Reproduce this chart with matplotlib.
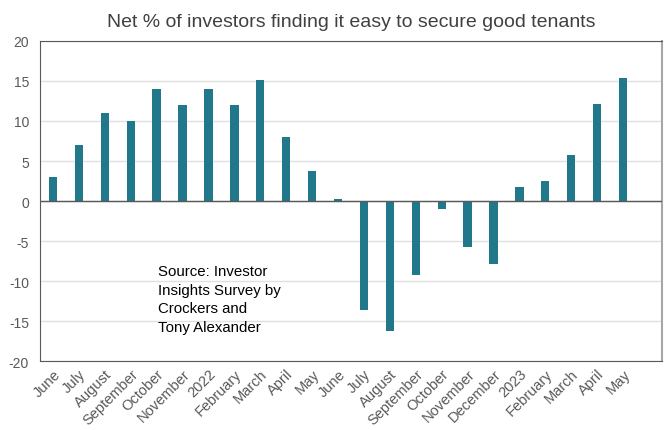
import matplotlib.pyplot as plt

plt.rcParams["font.family"] = ["Liberation Sans", "DejaVu Sans"]
plt.rcParams["axes.unicode_minus"] = False

# Monthly survey, June 2021 to May 2023 (last slot left empty)
months = ["June", "July", "August", "September", "October", "November",
          "2022", "February", "March", "April", "May", "June", "July",
          "August", "September", "October", "November", "December",
          "2023", "February", "March", "April", "May", ""]
net_pct = [3.0, 7.0, 11.0, 10.0, 14.0, 12.0, 14.0, 12.0, 15.1, 8.0, 3.7,
           0.3, -13.6, -16.3, -9.3, -1.0, -5.7, -7.9, 1.8, 2.5, 5.7,
           12.1, 15.4, None]

x = list(range(len(months)))
vals = [v if v is not None else 0 for v in net_pct]

fig = plt.figure(figsize=(6.68, 4.31), dpi=100)
ax = fig.add_axes([0.0599, 0.160, 0.931, 0.7426])

ax.bar(x, vals, width=0.32, color="#20788a", zorder=3)
ax.axhline(0, color="#595959", lw=1, zorder=4)

ax.set_xlim(-0.5, len(months) - 0.5)
ax.set_ylim(-20, 20)
ax.set_yticks(range(-20, 21, 5))
ax.yaxis.grid(True, color="#e0e0e0", lw=1, zorder=0)
ax.set_xticks(x)
ax.set_xticklabels(months, rotation=45, ha="right", rotation_mode="anchor")
ax.tick_params(axis="both", length=0, labelsize=10, colors="#595959")
ax.tick_params(axis="x", pad=4, labelsize=10.5)
ax.tick_params(axis="y", pad=8)

for side in ["top", "left", "bottom"]:
    ax.spines[side].set_color("#595959")
ax.spines["right"].set_color("#a6a6a6")
ax.spines["right"].set_linewidth(1.5)

ax.set_title("Net % of investors finding it easy to secure good tenants",
             fontsize=14, color="#404040", pad=11)

ax.text(4.05, -7.9, "Source: Investor\nInsights Survey by\nCrockers and\nTony Alexander",
        fontsize=10.8, color="black", va="top", ha="left", linespacing=1.42)

plt.savefig("out.png", dpi=100)
